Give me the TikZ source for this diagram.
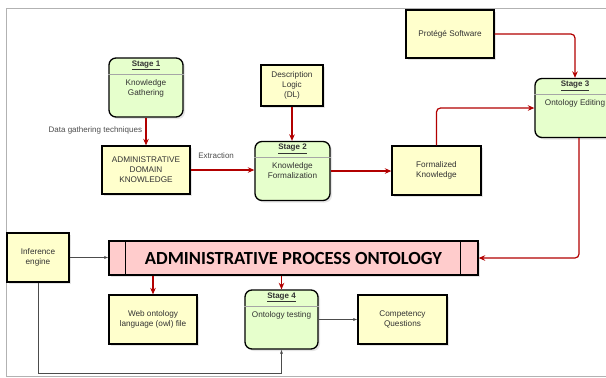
\documentclass[tikz,border=0pt]{standalone}
\usepackage{fontspec}
\setmainfont{Liberation Sans}
\newfontfamily\bannerfont{Carlito}
\usepackage{tikz}
\usetikzlibrary{arrows.meta}
\usetikzlibrary{shadows}
\definecolor{boxyellow}{HTML}{FFFFCC}
\definecolor{stagegreen}{HTML}{E6FFCC}
\definecolor{bannerpink}{HTML}{FFCCCC}
\definecolor{flowred}{HTML}{B20000}

\begin{document}
\begin{tikzpicture}[x=1pt, y=-1pt, font=\fontsize{8.2}{10}\selectfont, text=black!80]
        \tikzstyle{box}=[draw, line width=1.3pt, fill=boxyellow, align=center, inner sep=2pt,
                         drop shadow={opacity=0.2, shadow xshift=2pt, shadow yshift=-2pt}]
        \tikzstyle{stage}=[box, fill=stagegreen, rounded corners=7pt, minimum height=59]
        \tikzstyle{stitle}=[font=\fontsize{8}{10}\selectfont\bfseries, inner sep=1pt]
        \tikzstyle{sbody}=[align=center, anchor=north, inner sep=0pt]
        \tikzstyle{sepline}=[draw=black!35, line width=0.8pt]
        \tikzstyle{flow}=[draw=flowred, line width=1.2pt, -{Stealth[length=6.5pt,width=5.5pt]}, rounded corners=4pt]
        \tikzstyle{link}=[draw=black!70, line width=0.6pt, -{Latex[length=4pt,width=3pt]}]
        \tikzstyle{lbl}=[font=\fontsize{8}{9}\selectfont, text=black!70]

        \useasboundingbox (0,0) rectangle (606,378);

        % Frame of the page
        \draw[black!30, line width=0.8pt] (606,8) -- (6,8) -- (6,376) -- (606,376);

        % Plain boxes
        \node[box, minimum width=88, minimum height=48] (PS) at (450,34) {Protégé Software};
        \node[box, minimum width=62, minimum height=41] (DL) at (292,85.5) {Description\\Logic\\(DL)};
        \node[box, minimum width=88, minimum height=48] (ADK) at (146,170) {ADMINISTRATIVE\\DOMAIN\\KNOWLEDGE};
        \node[box, minimum width=89, minimum height=49] (FK) at (436.5,170.5) {Formalized\\Knowledge};
        \node[box, minimum width=62, minimum height=49] (IE) at (38,257.5) {Inference\\engine};
        \node[box, minimum width=88, minimum height=49] (WOL) at (153,319.5) {Web ontology\\language (owl) file};
        \node[box, minimum width=89, minimum height=49] (CQ) at (402.5,319.5) {Competency\\Questions};

        % Stages
        \foreach \n/\x/\y/\w/\txt in {1/146/87.5/74/{Knowledge\\Gathering},
                                      2/292.5/171/75/{Knowledge\\Formalization},
                                      3/575/108/80/{Ontology Editing},
                                      4/281.5/319.5/73/{Ontology testing}} {
            \node[stage, minimum width=\w] (S\n) at (\x,\y) {};
            \node[stitle] (S\n-t) at ([yshift=-8pt]S\n.north) {\underline{Stage \n}};
            \draw[sepline] ([yshift=-17pt]S\n.north west) -- ([yshift=-17pt]S\n.north east);
            \node[sbody] (S\n-b) at ([yshift=-22pt]S\n.north) {\txt};
        }

        % Ontology banner
        \node[box, fill=bannerpink, minimum width=369, minimum height=34, text=black,
              font=\bannerfont\fontsize{18.5}{20}\selectfont\bfseries] (B) at (293.5,258) {ADMINISTRATIVE PROCESS ONTOLOGY};
        \draw[line width=1.3pt] ([xshift=17pt]B.north west) -- ([xshift=17pt]B.south west);
        \draw[line width=1.3pt] ([xshift=-18pt]B.north east) -- ([xshift=-18pt]B.south east);

        % Red flow
        \draw[flow] (S1.south) -- node[lbl, left, pos=0.45] (dgt) {Data gathering techniques} (S1.south |- ADK.north);
        \draw[flow] (ADK.east) -- node[lbl, above=7pt, pos=0.4] (ext) {Extraction} (ADK.east -| S2.west);
        \draw[flow] (DL.south) -- (DL.south |- S2.north);
        \draw[flow] (S2.east) -- (S2.east -| FK.west);
        \draw[flow] (FK.north) |- (S3.west);
        \draw[flow] (PS.east) -| (S3.north);
        \draw[flow] ([xshift=4pt]S3.south) |- (B.east);
        \draw[flow] (WOL.north |- B.south) -- (WOL.north);
        \draw[flow] (S4.north |- B.south) -- (S4.north);

        % Grey links
        \coordinate (low) at (0,373);
        \draw[link] (IE.east) -- (IE.east -| B.west);
        \draw[link] (IE.south) |- (S4.south |- low) -- (S4.south);
        \draw[link] (S4.east) -- (S4.east -| CQ.west);
    \end{tikzpicture}
\end{document}
